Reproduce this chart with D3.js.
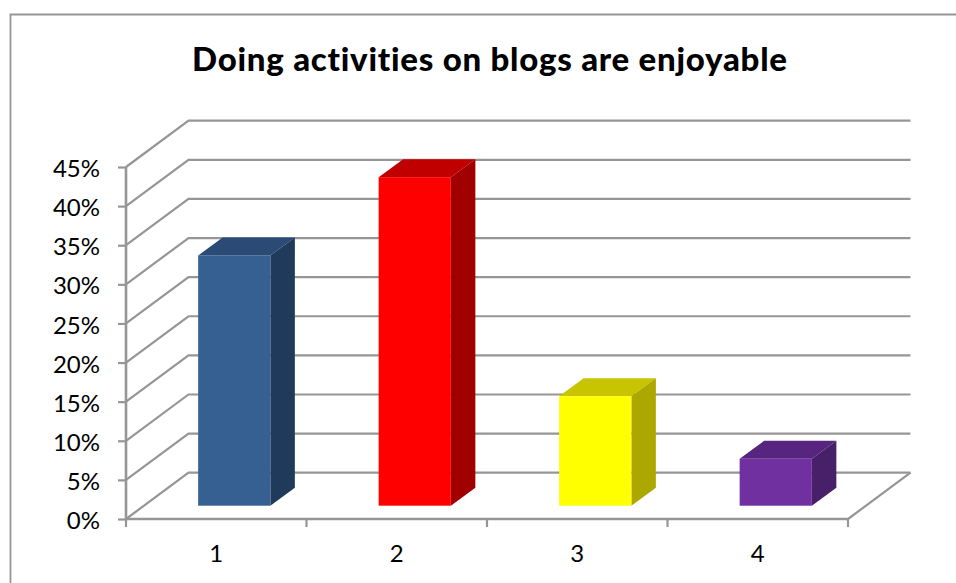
<!DOCTYPE html>
<html><head><meta charset="utf-8">
<script src="https://cdnjs.cloudflare.com/ajax/libs/d3/7.8.5/d3.min.js"></script>
<style>html,body{margin:0;padding:0;background:#fff;overflow:hidden}svg{display:block}text{font-family:"Lato",sans-serif;fill:#000;font-variant-ligatures:none}</style>
</head><body><svg id="c" width="956" height="583"></svg>
<script>
const titleText = "Doing activities on blogs are enjoyable";
const categories = ["1","2","3","4"];
const values = [32,42,14,6];
const tickValues = [0,5,10,15,20,25,30,35,40,45];
const frontColors = ["#366092","#ff0000","#ffff00","#7030a0"];
const topColors = ["#2b4a75","#c00000","#c8c400","#57257f"];
const sideColors = ["#203a5c","#a00000","#aca800","#48206a"];

const svg = d3.select("#c");
const gray = "#969696";
const x0 = 126, x1 = 848, y0 = 519, y45 = 167, wallDx = 62.5, wallDy = 46.3;
const y = d3.scaleLinear().domain([0,45]).range([y0,y45]);
const x = d3.scaleBand().domain(categories).range([x0,x1]).paddingInner(0).paddingOuter(0);
const line = d3.line();

svg.append("path").attr("d", line([[10.5,583],[10.5,14.5],[956,14.5]]))
  .attr("fill","none").attr("stroke",gray).attr("stroke-width",1.8);

svg.append("g").selectAll("path").data(tickValues).join("path")
  .attr("d", d => line([[x0,y(d)],[x0+wallDx,y(d)-wallDy],[x1+wallDx,y(d)-wallDy]]))
  .attr("fill","none").attr("stroke",gray).attr("stroke-width",2.2);

svg.append("path").attr("d", line([[x1,y0],[x1+wallDx,y0-wallDy]]))
  .attr("fill","none").attr("stroke",gray).attr("stroke-width",2.2);

const yAxis = d3.axisLeft(y).tickValues(tickValues).tickFormat(d=>d+"%").tickSize(8).tickPadding(18);
const gy = svg.append("g").attr("transform",`translate(${x0},0)`).call(yAxis);
gy.selectAll("path,line").attr("stroke",gray).attr("stroke-width",2.2);
gy.select(".domain").attr("d",`M0,${y45}V${y0}`).attr("stroke-width",2.6);
gy.selectAll("text").attr("font-size",24).attr("font-family","Lato,sans-serif").attr("fill","#000").attr("dy","0.4em");

const xAxis = d3.axisBottom(x).tickSize(0).tickPadding(26);
const gx = svg.append("g").attr("transform",`translate(0,${y0})`).call(xAxis);
gx.select(".domain").attr("d",`M${x0},0H${x1}`).attr("stroke",gray).attr("stroke-width",2.6);
gx.selectAll("text").attr("font-size",24).attr("font-family","Lato,sans-serif").attr("fill","#000");
const edges = categories.map(c=>x(c)).concat([x1]);
gx.selectAll(".edge").data(edges).join("line").attr("class","edge")
  .attr("x1",d=>d).attr("x2",d=>d).attr("y1",0).attr("y2",8).attr("stroke",gray).attr("stroke-width",2.2);

const barW = x.bandwidth()*0.4, baseShift = 13.3, depthDx = 24.5, depthDy = 18;
const barG = svg.append("g").selectAll("g").data(values).join("g");
const bx = (i) => x(categories[i]) + x.bandwidth()/2 - barW/2 + 18;
const by0 = y0 - baseShift;
const h = v => y0 - y(v);
barG.append("path").attr("fill",(d,i)=>topColors[i])
  .attr("d",(d,i)=>{const l=bx(i),t=by0-h(d);return line([[l,t],[l+barW,t],[l+barW+depthDx,t-depthDy],[l+depthDx,t-depthDy]])+"Z";});
barG.append("path").attr("fill",(d,i)=>sideColors[i])
  .attr("d",(d,i)=>{const r=bx(i)+barW,t=by0-h(d);return line([[r,t],[r+depthDx,t-depthDy],[r+depthDx,by0-depthDy],[r,by0]])+"Z";});
barG.append("rect").attr("fill",(d,i)=>frontColors[i])
  .attr("x",(d,i)=>bx(i)).attr("width",barW).attr("y",d=>by0-h(d)).attr("height",d=>h(d));

svg.append("text").attr("x",489.5).attr("y",71).attr("text-anchor","middle")
  .attr("font-size",33).attr("font-weight",900).attr("textLength",595).attr("lengthAdjust","spacing").text(titleText);
</script></body></html>
